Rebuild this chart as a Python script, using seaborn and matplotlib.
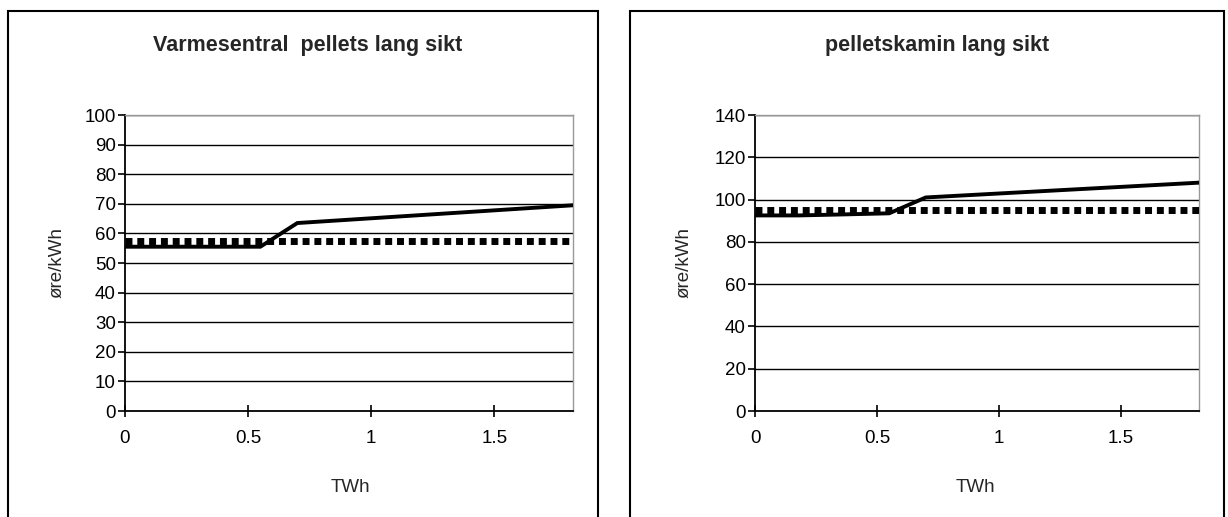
import matplotlib
matplotlib.use("Agg")
import matplotlib.pyplot as plt
import seaborn as sns
import pandas as pd
from matplotlib.patches import Rectangle

sns.set_theme(style="white")
plt.rcParams['font.family'] = ['Liberation Sans', 'DejaVu Sans']

# Data
titles = ["Varmesentral  pellets lang sikt", "pelletskamin lang sikt"]
x_solid = [0.0, 0.18, 0.37, 0.55, 0.7, 1.82]
y_solid_left = [55.5, 55.5, 55.5, 55.5, 63.5, 69.5]
y_solid_right = [92.5, 92.5, 93.0, 93.5, 101.0, 108.0]
x_dotted = [0.0, 1.82]
y_dotted_left = [57.5, 57.5]
y_dotted_right = [95.0, 95.0]
x_ticks = [0, 0.5, 1, 1.5]
x_ticklabels = ["0", "0.5", "1", "1.5"]
y_ticks_left = [0, 10, 20, 30, 40, 50, 60, 70, 80, 90, 100]
y_ticks_right = [0, 20, 40, 60, 80, 100, 120, 140]
x_label = "TWh"
y_label = "øre/kWh"

W, H = 1228, 517
fig = plt.figure(figsize=(W/100, H/100), dpi=100)

# panel frames
fig.patches.append(Rectangle((8/W, -0.1), (598-8)/W, 1.1 - 11/H,
                             transform=fig.transFigure, fill=False, edgecolor='black', lw=1.5))
fig.patches.append(Rectangle((630/W, -0.1), (1224-630)/W, 1.1 - 11/H,
                             transform=fig.transFigure, fill=False, edgecolor='black', lw=1.5))

panels = [
    dict(pos=[125/W, 1-411/H, (573-125)/W, (411-115)/H],
         ys=y_solid_left, yd=y_dotted_left, yt=y_ticks_left, ylim=100, title=titles[0],
         tx=308/W, ylx=57/W, xlx=350/W),
    dict(pos=[755/W, 1-411/H, (1199-755)/W, (411-115)/H],
         ys=y_solid_right, yd=y_dotted_right, yt=y_ticks_right, ylim=140, title=titles[1],
         tx=937/W, ylx=684/W, xlx=975/W),
]

for p in panels:
    ax = fig.add_axes(p['pos'])
    df_s = pd.DataFrame({'x': x_solid, 'y': p['ys']})
    df_d = pd.DataFrame({'x': x_dotted, 'y': p['yd']})
    sns.lineplot(data=df_d, x='x', y='y', ax=ax, color='black', lw=5,
                 linestyle=(0, (1.0, 0.7)), dash_capstyle='butt', zorder=3)
    sns.lineplot(data=df_s, x='x', y='y', ax=ax, color='black', lw=2.8, zorder=4,
                 solid_joinstyle='miter')
    ax.set_xlim(0, 1.82)
    ax.set_ylim(0, p['ylim'])
    ax.set_xticks(x_ticks)
    ax.set_xticklabels(x_ticklabels)
    ax.set_yticks(p['yt'])
    for yv in p['yt'][1:]:
        ax.axhline(yv, color='black', lw=1.0, zorder=1)
    for s in ['top', 'right']:
        ax.spines[s].set_color('#999999')
        ax.spines[s].set_linewidth(1.0)
    for s in ['left', 'bottom']:
        ax.spines[s].set_color('black')
        ax.spines[s].set_linewidth(1.3)
    ax.tick_params(axis='both', which='major', direction='out', length=5, width=1.2,
                   color='black', labelsize=13.5, colors='black', bottom=True, left=True)
    ax.tick_params(axis='y', pad=1.5)
    ax.tick_params(axis='x', pad=10, direction='inout', length=8)
    ax.set_xlabel('')
    ax.set_ylabel('')
    fig.text(p['tx'], 1-51/H, p['title'], ha='center', va='baseline',
             fontsize=15.5, fontweight='bold')
    fig.text(p['ylx'], 1-263/H, y_label, ha='center', va='center', rotation=90,
             fontsize=13.5)
    fig.text(p['xlx'], 1-492/H, x_label, ha='center', va='baseline', fontsize=13.5)

fig.savefig("out.png", dpi=100, facecolor='white')
